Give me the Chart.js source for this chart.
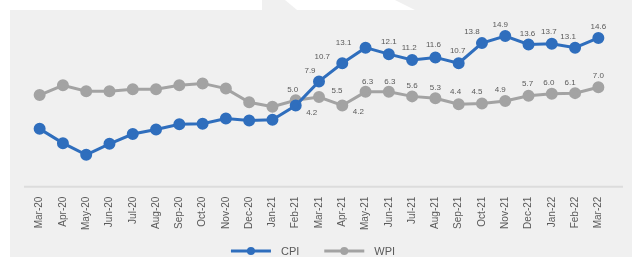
<!DOCTYPE html>
<html>
<head>
<meta charset="utf-8">
<script src="https://cdn.jsdelivr.net/npm/chart.js@4/dist/chart.umd.min.js"></script>
<style>
  html, body { margin: 0; padding: 0; background: #ffffff; }
  #wrap { width: 632px; height: 257px; position: relative; }
</style>
</head>
<body>
<div id="wrap"><canvas id="c" width="632" height="257"></canvas></div>
<script>
// ---- data ----
const categories = ["Mar-20","Apr-20","May-20","Jun-20","Jul-20","Aug-20","Sep-20","Oct-20","Nov-20","Dec-20","Jan-21","Feb-21","Mar-21","Apr-21","May-21","Jun-21","Jul-21","Aug-21","Sep-21","Oct-21","Nov-21","Dec-21","Jan-22","Feb-22","Mar-22"];
const cpiValues = [0.6, -1.6, -3.4, -1.7, -0.2, 0.5, 1.3, 1.4, 2.2, 1.9, 2.0, 4.2, 7.9, 10.7, 13.1, 12.1, 11.2, 11.6, 10.7, 13.8, 14.9, 13.6, 13.7, 13.1, 14.6];
const wpiValues = [5.8, 7.3, 6.4, 6.4, 6.7, 6.7, 7.3, 7.6, 6.8, 4.7, 4.0, 5.0, 5.5, 4.2, 6.3, 6.3, 5.6, 5.3, 4.4, 4.5, 4.9, 5.7, 6.0, 6.1, 7.0];
const firstLabelIndex = 11;

// ---- styling ----
const BLUE = '#2f6ebd';
const GREY = '#a3a3a3';
const BG = '#f0f0f0';
const TEXT = '#5a5a5a';
const FONT = '"Liberation Sans", Arial, sans-serif';

const bgPlugin = {
  id: 'bg',
  beforeDraw(chart) {
    const { ctx, width, height } = chart;
    ctx.save();
    ctx.fillStyle = '#ffffff';
    ctx.fillRect(0, 0, width, height);
    ctx.fillStyle = BG;
    ctx.fillRect(10, 10, width - 10, height - 10);
    ctx.beginPath();
    ctx.moveTo(262, 0); ctx.lineTo(285, 0); ctx.lineTo(297, 10); ctx.lineTo(262, 10); ctx.closePath();
    ctx.fill();
    ctx.beginPath();
    ctx.moveTo(395, 0); ctx.lineTo(width, 0); ctx.lineTo(width, 10); ctx.lineTo(415, 10); ctx.closePath();
    ctx.fill();
    const a = chart.chartArea;
    ctx.strokeStyle = '#dcdcdc';
    ctx.lineWidth = 2;
    ctx.beginPath();
    ctx.moveTo(a.left - 4, a.bottom); ctx.lineTo(a.right + 13, a.bottom);
    ctx.stroke();
    ctx.restore();
  }
};

// label offsets (dx, dy) relative to the point, per dataset, from firstLabelIndex on
const labelOffsets = [
  [[16,7],[-9,-11],[-20,-6],[-22,-5],[0,-12],[-3,-12],[-2,-13],[-1,-12],[-10,-11],[-5,-11],[-1,-11],[-3,-12],[-7,-11],[0,-11]],
  [[-3,-10],[18,-6],[16,6],[2,-10],[1,-10],[0,-11],[0,-11],[-3,-12],[-5,-12],[-5,-11],[-1,-12],[-3,-11],[-5,-10],[0,-11]]
];

const labelPlugin = {
  id: 'vlabels',
  afterDatasetsDraw(chart) {
    const { ctx } = chart;
    ctx.save();
    ctx.font = '8px ' + FONT;
    ctx.fillStyle = TEXT;
    ctx.textAlign = 'center';
    ctx.textBaseline = 'middle';
    chart.data.datasets.forEach((ds, di) => {
      const meta = chart.getDatasetMeta(di);
      meta.data.forEach((pt, i) => {
        if (i < firstLabelIndex) return;
        const off = labelOffsets[di][i - firstLabelIndex] || [0, -11];
        ctx.fillText(ds.data[i].toFixed(1), pt.x + off[0], pt.y + off[1]);
      });
    });
    ctx.restore();
  }
};

const legendPlugin = {
  id: 'lineLegend',
  afterDraw(chart) {
    const { ctx, width } = chart;
    const y = 251, lineW = 40, gapText = 10, gapItem = 25;
    ctx.save();
    ctx.font = '11px ' + FONT;
    const ds = chart.data.datasets;
    let total = 0;
    ds.forEach((d, i) => { total += lineW + gapText + ctx.measureText(d.label).width + (i ? gapItem : 0); });
    let x = (width - total) / 2 - 3;
    ds.forEach((d, i) => {
      if (i) x += gapItem;
      ctx.strokeStyle = d.borderColor; ctx.lineWidth = 3;
      ctx.beginPath(); ctx.moveTo(x, y); ctx.lineTo(x + lineW, y); ctx.stroke();
      ctx.fillStyle = d.borderColor;
      ctx.beginPath(); ctx.arc(x + lineW / 2, y, 4, 0, Math.PI * 2); ctx.fill();
      x += lineW + gapText;
      ctx.fillStyle = TEXT; ctx.textBaseline = 'middle'; ctx.textAlign = 'left';
      ctx.fillText(d.label, x, y + 1);
      x += ctx.measureText(d.label).width;
    });
    ctx.restore();
  }
};

new Chart(document.getElementById('c'), {
  type: 'line',
  data: {
    labels: categories,
    datasets: [
      { label: 'CPI', data: cpiValues, borderColor: BLUE, backgroundColor: BLUE, pointBackgroundColor: BLUE, pointBorderColor: BLUE, borderWidth: 3, pointRadius: 4.5, tension: 0 },
      { label: 'WPI', data: wpiValues, borderColor: GREY, backgroundColor: GREY, pointBackgroundColor: GREY, pointBorderColor: GREY, borderWidth: 3, pointRadius: 4.5, tension: 0 }
    ]
  },
  options: {
    responsive: false,
    animation: false,
    devicePixelRatio: 1,
    layout: { padding: { left: 28, right: 22, top: 10, bottom: 17 } },
    scales: {
      x: {
        offset: true,
        grid: { display: false, drawTicks: false },
        border: { display: false },
        ticks: { autoSkip: false, minRotation: 90, maxRotation: 90, padding: 10, color: TEXT, font: { family: FONT, size: 10 } }
      },
      y: { display: false, min: -8.3, max: 18.9 }
    },
    plugins: {
      legend: { display: false },
      tooltip: { enabled: false }
    }
  },
  plugins: [bgPlugin, labelPlugin, legendPlugin]
});
</script>
</body>
</html>
